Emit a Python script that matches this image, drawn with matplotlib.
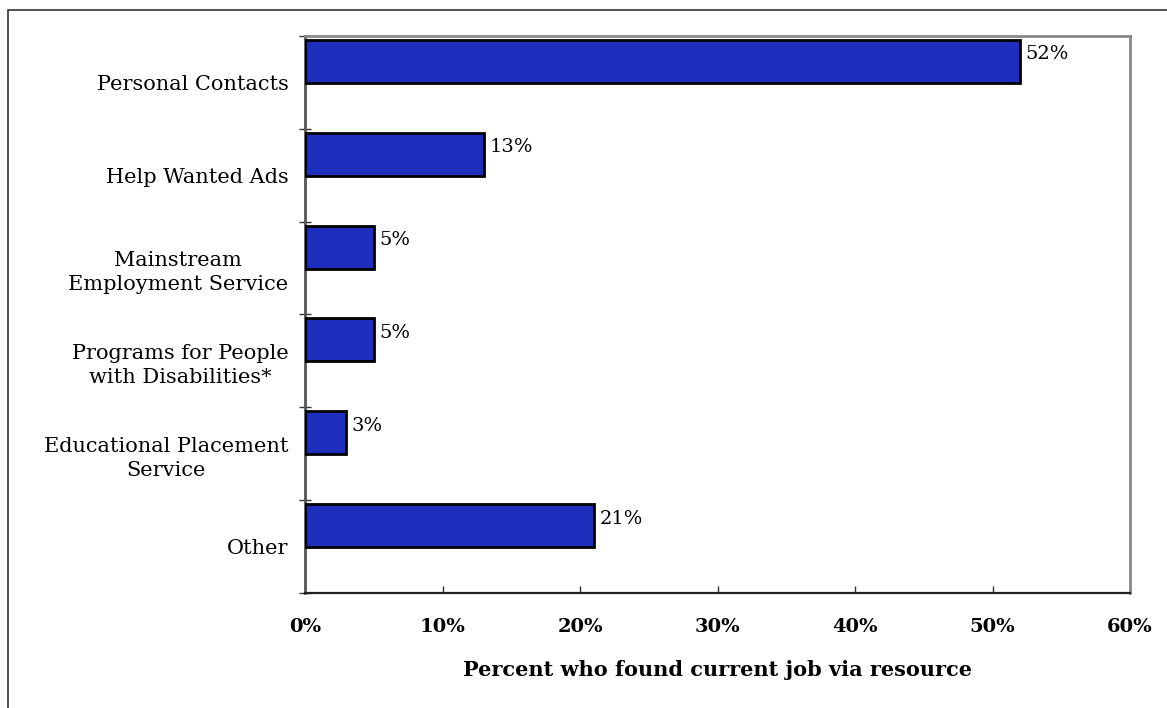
import numpy as np
import matplotlib.pyplot as plt
from matplotlib.patches import Rectangle

categories = ["Personal Contacts", "Help Wanted Ads", "Mainstream\nEmployment Service",
              "Programs for People\nwith Disabilities*", "Educational Placement\nService", "Other"]
percents = [52, 13, 5, 5, 3, 21]
xticks = [0, 10, 20, 30, 40, 50, 60]
xlabel = "Percent who found current job via resource"

plt.rcParams['font.family'] = ['DejaVu Serif']

fig = plt.figure(figsize=(11.67, 7.08), dpi=100)
ax = fig.add_axes([0.2614, 0.1624, 0.7069, 0.7868])

# frame around the whole figure (only left and top edges show)
fig.patches.append(Rectangle((8 / 1167, -0.1), 1.2, 1 - 10 / 708 + 0.1,
                             transform=fig.transFigure, fill=False,
                             edgecolor='#333333', linewidth=1.2))

pos = np.arange(len(categories))
ax.barh(pos - 0.226, percents, height=0.462, color='#1f2fbd',
        edgecolor='black', linewidth=2, zorder=3)

for y, v in zip(pos, percents):
    ax.annotate(f"{v}%", xy=(v, y - 0.226), xytext=(4, 5), textcoords='offset points',
                va='center', ha='left', fontsize=14)

ax.set_xlim(0, 60)
ax.set_ylim(len(categories) - 0.5, -0.5)

ax.set_xticks(xticks)
ax.set_xticklabels([f"{t}%" for t in xticks], fontsize=14, fontweight='bold')
ax.tick_params(axis='x', direction='in', length=5, width=1, pad=18, color='#333333')

ax.set_yticks(pos)
ax.set_yticklabels(categories, fontsize=15, multialignment='center', linespacing=1.35)
ax.tick_params(axis='y', which='major', length=0, pad=12)
ax.set_yticks(np.arange(len(categories) + 1) - 0.5, minor=True)
ax.tick_params(axis='y', which='minor', direction='inout', length=9, width=1, color='#333333')

ax.set_xlabel(xlabel, fontsize=15, fontweight='bold', labelpad=17)

ax.spines['left'].set_color('#555555')
ax.spines['left'].set_linewidth(2)
ax.spines['bottom'].set_color('#222222')
ax.spines['bottom'].set_linewidth(1.6)
for s in ('top', 'right'):
    ax.spines[s].set_color('#888888')
    ax.spines[s].set_linewidth(2)

fig.savefig("out.png", dpi=100)
